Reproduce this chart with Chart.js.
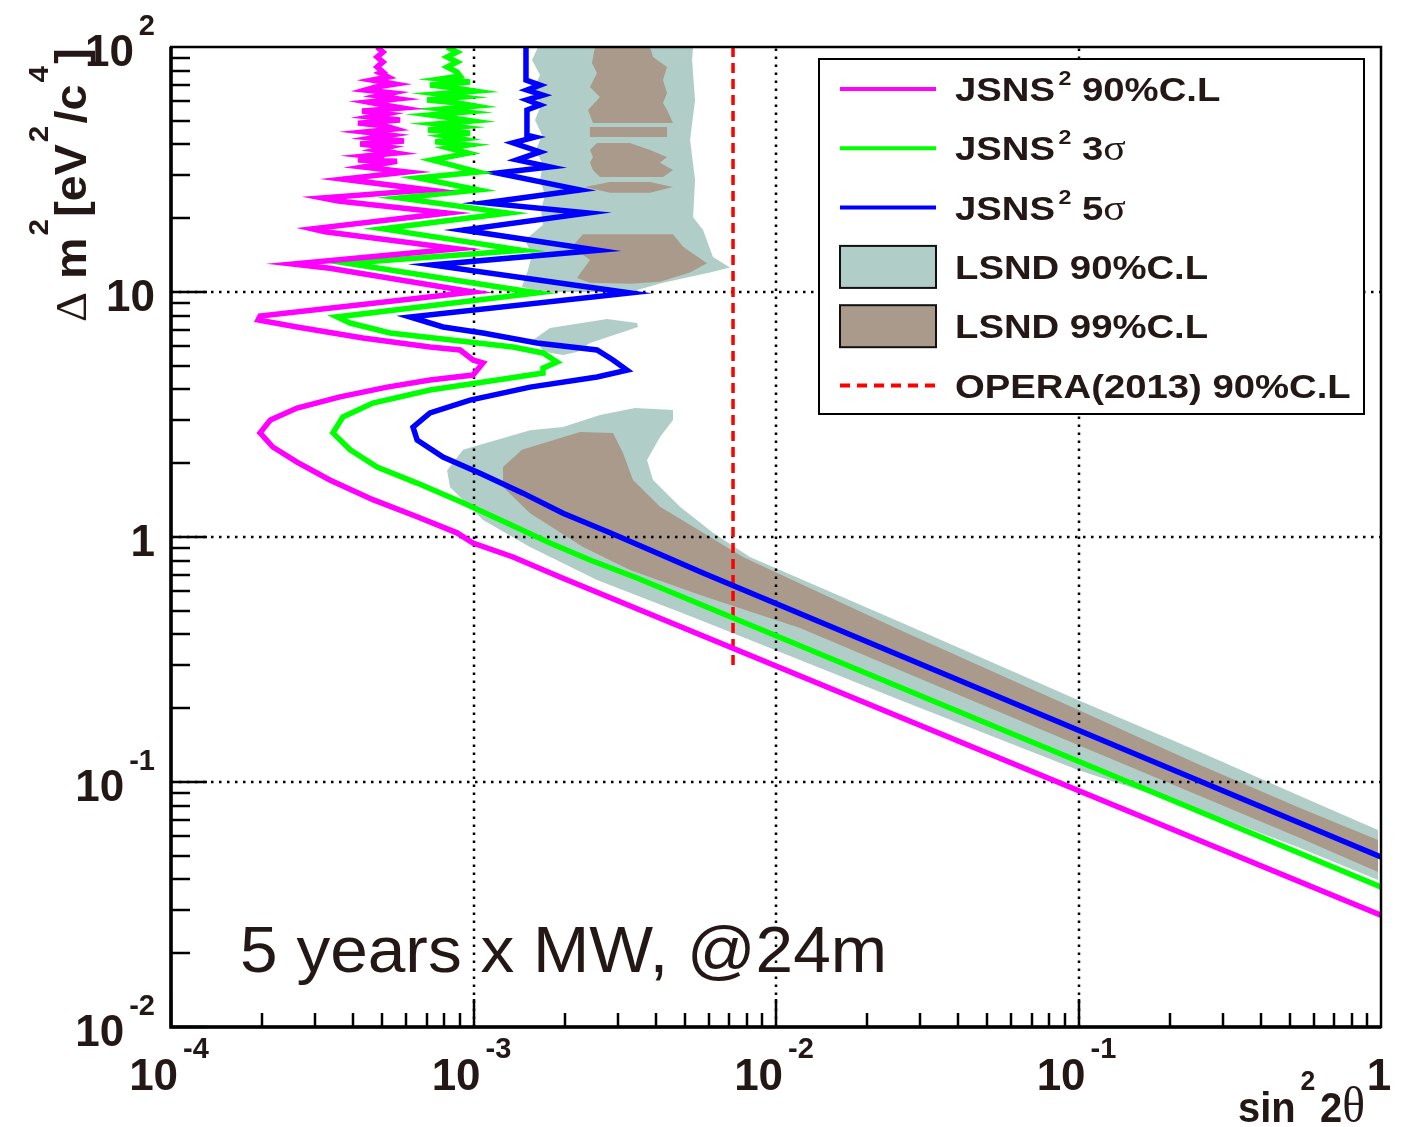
<!DOCTYPE html>
<html>
<head>
<meta charset="utf-8">
<script src="https://cdn.jsdelivr.net/npm/chart.js@4.4.0/dist/chart.umd.min.js"></script>
<style>
  html, body { margin: 0; padding: 0; background: #fff; }
</style>
</head>
<body>
<canvas id="exclusion" width="1411" height="1127"></canvas>
<script>
// Sensitivity of JSNS^2 to sterile neutrino oscillation, sin^2(2θ) vs Δm^2 [eV^2/c^4]

const xDecades = [1e-4, 1e-3, 1e-2, 1e-1, 1];
const xTickLabels = [['10', '-4'], ['10', '-3'], ['10', '-2'], ['10', '-1'], ['1', '']];
const yDecades = [1e-2, 1e-1, 1, 10, 100];
const yTickLabels = [['10', '-2'], ['10', '-1'], ['1', ''], ['10', ''], ['10', '2']];

// JSNS^2 contours [sin^2 2θ, Δm^2]
const jsns90 = [
  [4.80e-4, 100], [5.02e-4, 95.4], [4.80e-4, 91.0], [5.02e-4, 86.9], [4.80e-4, 82.9], [5.02e-4, 79.1],
  [4.91e-4, 78.3], [5.22e-4, 75.4], [4.62e-4, 73.3], [5.50e-4, 70.6], [4.76e-4, 68.7], [4.38e-4, 66.7],
  [5.38e-4, 64.9], [4.84e-4, 63.1], [5.63e-4, 61.4], [4.48e-4, 59.6], [5.06e-4, 58.0], [5.80e-4, 56.4],
  [4.28e-4, 54.8], [5.14e-4, 53.3], [4.55e-4, 51.8], [5.72e-4, 50.4], [4.15e-4, 48.9], [5.10e-4, 47.6],
  [5.50e-4, 46.3], [4.35e-4, 45.0], [5.30e-4, 43.7], [4.62e-4, 42.5], [5.89e-4, 41.3], [4.22e-4, 40.2],
  [5.22e-4, 39.0], [4.76e-4, 38.0], [5.54e-4, 36.9], [4.41e-4, 35.9], [5.06e-4, 35.2],
  [4.15e-4, 34.6], [5.59e-4, 34.2], [4.31e-4, 32.4],
  [6.03e-4, 30.9], [3.70e-4, 28.9], [7.07e-4, 26.1], [3.16e-4, 24.2], [3.57e-4, 23.5], [8.18e-4, 21.0],
  [2.93e-4, 18.1], [3.23e-4, 17.6], [8.82e-4, 15.0], [2.53e-4, 13.0], [3.35e-4, 12.5], [9.96e-4, 10.0],
  [1.97e-4, 7.98], [1.94e-4, 7.69], [2.61e-4, 7.20], [4.31e-4, 6.49], [7.18e-4, 5.96], [9.03e-4, 5.80],
  [9.96e-4, 5.28], [1.075e-3, 5.13], [9.96e-4, 4.58], [7.18e-4, 4.37], [5.18e-4, 4.09], [3.62e-4, 3.73],
  [2.61e-4, 3.36], [2.13e-4, 3.00], [1.97e-4, 2.66], [2.17e-4, 2.33], [2.61e-4, 2.02], [3.35e-4, 1.71],
  [4.65e-4, 1.42], [6.51e-4, 1.21], [8.82e-4, 1.04], [9.96e-4, 0.945], [1.351e-3, 0.829], [1.932e-3, 0.687],
  [1, 0.0286]
];
const jsns3s = [
  [8.18e-4, 100], [8.82e-4, 95.4], [8.18e-4, 91.0], [8.82e-4, 86.9], [8.18e-4, 82.9], [8.82e-4, 79.1],
  [9.03e-4, 76.1], [7.75e-4, 74.0], [9.74e-4, 71.9], [7.18e-4, 69.9], [8.69e-4, 68.0], [1.012e-3, 66.1],
  [7.63e-4, 64.3], [9.16e-4, 62.5], [7.02e-4, 60.8], [8.89e-4, 59.1], [1.019e-3, 57.4], [7.87e-4, 55.8],
  [9.45e-4, 54.3], [7.18e-4, 52.8], [8.49e-4, 51.3], [9.89e-4, 49.9], [7.52e-4, 48.5], [9.03e-4, 47.2],
  [7.07e-4, 45.8], [9.74e-4, 44.6], [8.05e-4, 43.3], [9.16e-4, 42.1], [7.46e-4, 41.0], [9.59e-4, 39.8],
  [8.24e-4, 38.7], [9.59e-4, 36.9], [7.29e-4, 34.6], [1.035e-3, 30.9], [6.55e-4, 29.2], [1.035e-3, 26.1],
  [5.71e-4, 24.2], [1.300e-3, 21.0], [5.02e-4, 18.1], [1.446e-3, 14.8], [3.82e-4, 13.1], [1.621e-3, 9.91],
  [3.54e-4, 7.91], [3.91e-4, 7.47], [5.30e-4, 6.80], [1.351e-3, 5.96], [1.697e-3, 5.64], [1.888e-3, 5.18],
  [1.697e-3, 4.89], [1.697e-3, 4.67], [1.196e-3, 4.37], [7.18e-4, 3.98], [4.65e-4, 3.52], [3.70e-4, 3.09],
  [3.43e-4, 2.66], [3.91e-4, 2.27], [4.80e-4, 1.93], [6.51e-4, 1.66], [9.23e-4, 1.38], [1.290e-3, 1.14],
  [1.790e-3, 0.945], [2.427e-3, 0.806], [3.472e-3, 0.680], [1, 0.0373]
];
const jsns5s = [
  [1.491e-3, 100], [1.491e-3, 73.3], [1.659e-3, 69.9], [1.502e-3, 66.7], [1.697e-3, 63.6], [1.502e-3, 60.8],
  [1.659e-3, 58.0], [1.502e-3, 55.3], [1.502e-3, 43.7], [1.597e-3, 42.9], [1.351e-3, 40.6], [1.659e-3, 37.3],
  [1.392e-3, 34.6], [1.790e-3, 32.4], [1.196e-3, 30.6], [2.250e-3, 26.1], [1.091e-3, 23.1], [2.391e-3, 21.0],
  [9.23e-4, 17.9], [2.580e-3, 14.8], [7.29e-4, 12.9], [3.292e-3, 9.91], [6.17e-4, 7.91], [7.93e-4, 7.20],
  [1.075e-3, 6.80], [1.621e-3, 6.19], [2.560e-3, 5.80], [2.892e-3, 5.28], [3.217e-3, 4.80], [2.560e-3, 4.50],
  [1.538e-3, 4.09], [9.74e-4, 3.62], [7.18e-4, 3.21], [6.31e-4, 2.81], [6.51e-4, 2.49], [7.93e-4, 2.12],
  [1.051e-3, 1.82], [1.457e-3, 1.51], [1.977e-3, 1.25], [2.827e-3, 1.04], [4.043e-3, 0.860], [5.74e-3, 0.713],
  [1, 0.0494]
];

// LSND allowed regions, one closed outline per island
const lsnd90 = [
  [[1.634e-3, 100], [1.561e-3, 88.5], [1.659e-3, 76.9], [1.573e-3, 66.7], [1.672e-3, 58.0], [1.597e-3, 50.4],
   [1.684e-3, 43.7], [1.609e-3, 38.0], [1.697e-3, 33.0], [1.659e-3, 28.7], [1.723e-3, 24.9], [1.672e-3, 21.6],
   [1.697e-3, 18.8], [1.480e-3, 16.3], [1.561e-3, 14.2], [1.514e-3, 12.3], [1.446e-3, 10.5], [1.659e-3, 10.0],
   [3.292e-3, 10.0], [4.231e-3, 10.9], [6.05e-3, 12.0], [7.05e-3, 12.6], [6.19e-3, 13.9], [5.74e-3, 17.9],
   [5.32e-3, 20.2], [5.40e-3, 28.7], [5.20e-3, 41.7], [5.40e-3, 60.8], [5.28e-3, 88.5], [5.32e-3, 100]],
  [[1.573e-3, 6.37], [1.790e-3, 7.13], [2.763e-3, 7.76], [3.472e-3, 7.47], [3.498e-3, 7.20], [2.427e-3, 6.19],
   [2.198e-3, 5.69], [1.977e-3, 5.53], [1.723e-3, 5.69]],
  [[3.420e-3, 3.36], [4.566e-3, 3.30], [4.566e-3, 3.00], [4.136e-3, 2.56], [3.747e-3, 2.06], [3.922e-3, 1.71],
   [4.815e-3, 1.33], [6.19e-3, 1.04], [8.20e-3, 0.829], [2.570e-2, 0.450], [9.96e-2, 0.216], [0.2522, 0.1326],
   [0.5398, 0.0877], [0.9775, 0.0637], [0.9775, 0.0398], [0.5398, 0.0538], [0.2522, 0.0769], [9.96e-2, 0.112],
   [2.570e-2, 0.216], [1.200e-2, 0.315], [5.61e-3, 0.458], [2.560e-3, 0.668], [1.538e-3, 0.910], [1.075e-3, 1.173],
   [8.36e-4, 1.60], [8.18e-4, 1.87], [9.23e-4, 2.27], [1.538e-3, 2.73], [1.977e-3, 2.81], [2.619e-3, 3.15]]
];
const lsnd99 = [
  [[2.521e-3, 100], [2.464e-3, 86.0], [2.560e-3, 78.3], [2.427e-3, 68.7], [2.619e-3, 62.5], [2.391e-3, 55.3],
   [2.483e-3, 48.9], [4.566e-3, 48.9], [4.363e-3, 55.3], [4.231e-3, 59.1], [4.363e-3, 64.9], [4.231e-3, 73.3],
   [4.363e-3, 82.9], [3.922e-3, 91.0], [3.833e-3, 100]],
  [[2.427e-3, 47.2], [4.363e-3, 47.2], [4.363e-3, 42.9], [2.427e-3, 42.9]],
  [[2.560e-3, 40.6], [3.292e-3, 40.6], [3.833e-3, 38.0], [4.363e-3, 35.6], [4.136e-3, 33.7], [4.566e-3, 31.5],
   [4.231e-3, 29.5], [2.619e-3, 29.5], [2.483e-3, 31.5], [2.427e-3, 33.7], [2.483e-3, 35.6], [2.427e-3, 38.0]],
  [[2.337e-3, 26.8], [2.827e-3, 28.1], [3.833e-3, 28.1], [4.566e-3, 26.8], [3.833e-3, 25.4], [2.827e-3, 25.4]],
  [[2.301e-3, 17.2], [4.566e-3, 17.2], [4.927e-3, 15.3], [5.914e-3, 13.1], [5.196e-3, 12.0], [4.136e-3, 11.0],
   [3.292e-3, 10.8], [2.427e-3, 10.9], [2.198e-3, 11.4], [2.427e-3, 13.5], [2.116e-3, 15.3]],
  [[2.250e-3, 2.68], [2.892e-3, 2.66], [3.120e-3, 2.20], [3.367e-3, 1.71], [4.136e-3, 1.33], [5.74e-3, 1.04],
   [7.78e-3, 0.829], [2.570e-2, 0.417], [9.96e-2, 0.197], [0.2522, 0.1173], [0.5398, 0.0783], [0.9775, 0.0580],
   [0.9775, 0.0429], [0.5398, 0.0591], [0.2522, 0.0877], [9.96e-2, 0.1416], [2.570e-2, 0.286], [1.200e-2, 0.425],
   [5.61e-3, 0.580], [3.292e-3, 0.733], [2.301e-3, 0.910], [1.538e-3, 1.25], [1.252e-3, 1.60], [1.252e-3, 1.93],
   [1.446e-3, 2.27]]
];

// OPERA (2013) 90% C.L. limit
const opera90 = [[7.21e-3, 0.300], [7.21e-3, 100]];

const TEXT = '#231815';
const C_LSND90 = '#b0cec7';
const C_LSND99 = '#a99a8b';

const toPts = arr => arr.map(([x, y]) => ({ x, y }));

const datasets = [];
lsnd90.forEach(poly => datasets.push({
  data: toPts(poly), borderWidth: 0, borderColor: C_LSND90, backgroundColor: C_LSND90,
  fill: 'shape', pointRadius: 0, order: 50
}));
lsnd99.forEach(poly => datasets.push({
  data: toPts(poly), borderWidth: 0, borderColor: C_LSND99, backgroundColor: C_LSND99,
  fill: 'shape', pointRadius: 0, order: 40
}));
datasets.push({
  label: 'OPERA', data: toPts(opera90), borderColor: '#ff0000', borderWidth: 3.5,
  borderDash: [10, 6], pointRadius: 0, fill: false, order: 30
});
datasets.push({ data: toPts(jsns5s), borderColor: '#0000ff', borderWidth: 5.5, pointRadius: 0, fill: false, order: 20 });
datasets.push({ data: toPts(jsns3s), borderColor: '#00ff00', borderWidth: 5.5, pointRadius: 0, fill: false, order: 15 });
datasets.push({ data: toPts(jsns90), borderColor: '#ff00ff', borderWidth: 5.5, pointRadius: 0, fill: false, order: 10 });

// draws "base^exp" with the group's reference point given by align
function powerText(ctx, base, exp, x, y, align, bigFont, smallFont, rise) {
  ctx.font = bigFont;
  const wb = ctx.measureText(base).width;
  ctx.font = smallFont;
  const we = exp ? ctx.measureText(exp).width + 5 : 0;
  const w = wb + we;
  let left = x;
  if (align === 'center') left = x - w / 2;
  if (align === 'right') left = x - w;
  ctx.textAlign = 'left';
  ctx.font = bigFont;
  ctx.fillText(base, left, y);
  if (exp) {
    ctx.font = smallFont;
    ctx.fillText(exp, left + wb + 5, y - rise);
  }
}

// sequence of text pieces drawn one after the other
function richText(ctx, parts, x, y, stretch, angle) {
  ctx.save();
  ctx.translate(x, y);
  if (angle) ctx.rotate(angle);
  ctx.scale(stretch, 1);
  ctx.textAlign = 'left';
  let cx = 0;
  parts.forEach(p => {
    ctx.font = p.font;
    cx += p.pre || 0;
    ctx.fillText(p.t, cx, p.dy || 0);
    cx += ctx.measureText(p.t).width;
  });
  ctx.restore();
}

const BOLD = s => `bold ${s}px "Liberation Sans", Arial, sans-serif`;
const SERIF = s => `${s}px "Liberation Serif", "Times New Roman", serif`;

const legendEntries = [
  { kind: 'line', color: '#ff00ff', parts: [{ t: 'JSNS', font: BOLD(33) }, { t: '2', font: BOLD(20), dy: -16, pre: 3 }, { t: ' 90%C.L', font: BOLD(33) }] },
  { kind: 'line', color: '#00ff00', parts: [{ t: 'JSNS', font: BOLD(33) }, { t: '2', font: BOLD(20), dy: -16, pre: 3 }, { t: ' 3', font: BOLD(33) }, { t: 'σ', font: SERIF(36) }] },
  { kind: 'line', color: '#0000ff', parts: [{ t: 'JSNS', font: BOLD(33) }, { t: '2', font: BOLD(20), dy: -16, pre: 3 }, { t: ' 5', font: BOLD(33) }, { t: 'σ', font: SERIF(36) }] },
  { kind: 'box', color: C_LSND90, parts: [{ t: 'LSND 90%C.L', font: BOLD(33) }] },
  { kind: 'box', color: C_LSND99, parts: [{ t: 'LSND 99%C.L', font: BOLD(33) }] },
  { kind: 'dash', color: '#ff0000', parts: [{ t: 'OPERA(2013) 90%C.L', font: BOLD(33) }] }
];

const rootStyle = {
  id: 'rootStyle',
  beforeDatasetDraw(chart, args) {
    if (chart.data.datasets[args.index].label !== 'OPERA') return;
    const { ctx, chartArea: a, scales: { x, y } } = chart;
    ctx.save();
    ctx.strokeStyle = '#000';
    ctx.lineWidth = 2.5;
    ctx.setLineDash([2.5, 5.5]);
    xDecades.slice(1, -1).forEach(v => {
      const px = Math.round(x.getPixelForValue(v));
      ctx.beginPath(); ctx.moveTo(px, a.bottom); ctx.lineTo(px, a.top); ctx.stroke();
    });
    yDecades.slice(1, -1).forEach(v => {
      const py = Math.round(y.getPixelForValue(v));
      ctx.beginPath(); ctx.moveTo(a.left, py); ctx.lineTo(a.right, py); ctx.stroke();
    });
    ctx.restore();
  },
  afterDatasetsDraw(chart) {
    const { ctx, chartArea: a, scales: { x, y } } = chart;
    ctx.save();
    // inner tick marks
    ctx.strokeStyle = '#000';
    ctx.lineWidth = 2.5;
    for (let d = 1e-2; d < 100; d *= 10) {
      for (let k = 1; k <= 9; k++) {
        const py = Math.round(y.getPixelForValue(k * d));
        const len = k === 1 ? 36 : 19;
        ctx.beginPath(); ctx.moveTo(a.left, py); ctx.lineTo(a.left + len, py); ctx.stroke();
      }
    }
    for (let d = 1e-4; d < 1; d *= 10) {
      for (let k = 1; k <= 9; k++) {
        const px = Math.round(x.getPixelForValue(k * d));
        const len = k === 1 ? 28 : 14;
        ctx.beginPath(); ctx.moveTo(px, a.bottom); ctx.lineTo(px, a.bottom - len); ctx.stroke();
      }
    }
    // frame
    ctx.lineWidth = 2.5;
    ctx.strokeRect(a.left, a.top, a.right - a.left, a.bottom - a.top);
    ctx.lineWidth = 3.5;
    ctx.beginPath();
    ctx.moveTo(a.left, a.top); ctx.lineTo(a.left, a.bottom); ctx.lineTo(a.right, a.bottom);
    ctx.stroke();

    // tick labels
    ctx.fillStyle = TEXT;
    xDecades.forEach((v, i) => {
      const [b, e] = xTickLabels[i];
      powerText(ctx, b, e, x.getPixelForValue(v) - 2, a.bottom + 63, 'center', BOLD(44), BOLD(29), 32);
    });
    yDecades.forEach((v, i) => {
      const [b, e] = yTickLabels[i];
      powerText(ctx, b, e, 155, y.getPixelForValue(v) + 19, 'right', BOLD(44), BOLD(29), 31);
    });

    // axis titles
    richText(ctx, [
      { t: 'sin', font: BOLD(42) },
      { t: '2', font: BOLD(28), dy: -32, pre: 5 },
      { t: '2', font: BOLD(42), pre: 5 },
      { t: 'θ', font: SERIF(50) }
    ], 1238, 1122, 0.95, 0);
    richText(ctx, [
      { t: 'Δ', font: SERIF(44) },
      { t: ' m', font: BOLD(44) },
      { t: '2', font: BOLD(28), dy: -38, pre: 2 },
      { t: '[eV', font: BOLD(44), pre: 2 },
      { t: '2', font: BOLD(28), dy: -38, pre: 2 },
      { t: '/c', font: BOLD(44), pre: 2 },
      { t: '4', font: BOLD(28), dy: -38, pre: 2 },
      { t: ']', font: BOLD(44), pre: 2 }
    ], 86, 322, 1.06, -Math.PI / 2);

    // run conditions
    richText(ctx, [{ t: '5 years x MW, @24m', font: '65px "Liberation Sans", Arial, sans-serif' }], 240, 972, 1.04, 0);

    // legend
    const L = { x: 819, y: 59, w: 545, h: 355 };
    ctx.fillStyle = '#fff';
    ctx.fillRect(L.x, L.y, L.w, L.h);
    ctx.strokeStyle = '#000';
    ctx.lineWidth = 2;
    ctx.strokeRect(L.x, L.y, L.w, L.h);
    legendEntries.forEach((en, i) => {
      const cy = 89 + i * 59.3;
      ctx.save();
      if (en.kind === 'line' || en.kind === 'dash') {
        ctx.strokeStyle = en.color;
        ctx.lineWidth = 4;
        ctx.setLineDash(en.kind === 'dash' ? [10, 7] : []);
        ctx.beginPath(); ctx.moveTo(840, cy); ctx.lineTo(936, cy); ctx.stroke();
      } else {
        ctx.fillStyle = en.color;
        ctx.fillRect(840, cy - 21, 96, 42);
        ctx.strokeStyle = '#111';
        ctx.lineWidth = 2;
        ctx.strokeRect(840, cy - 21, 96, 42);
      }
      ctx.restore();
      ctx.fillStyle = TEXT;
      richText(ctx, en.parts, 955, cy + 12, 1.16, 0);
    });
    ctx.restore();
  }
};

new Chart(document.getElementById('exclusion'), {
  type: 'line',
  data: { datasets },
  options: {
    responsive: false,
    animation: false,
    layout: { padding: { left: 171, top: 47, right: 30, bottom: 100 } },
    elements: { line: { tension: 0 } },
    scales: {
      x: { type: 'logarithmic', min: 1e-4, max: 1, display: false },
      y: { type: 'logarithmic', min: 1e-2, max: 100, display: false }
    },
    plugins: { legend: { display: false }, tooltip: { enabled: false } }
  },
  plugins: [rootStyle]
});
</script>
</body>
</html>
